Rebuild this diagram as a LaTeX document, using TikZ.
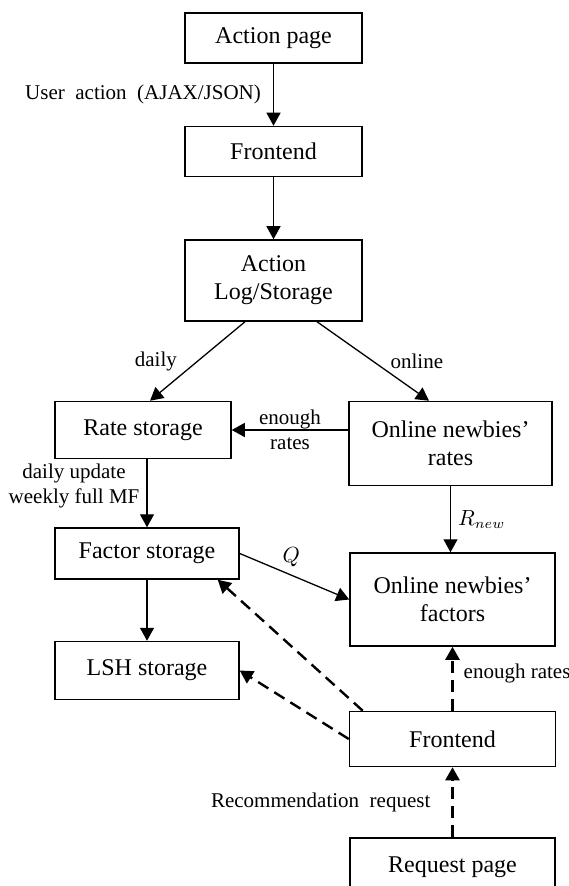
\documentclass[tikz,border=0pt]{standalone}
\usepackage{amsmath}
\usepackage{fontspec}
\setmainfont{Liberation Serif}
\usepackage{tikz}
\usetikzlibrary{positioning,calc,arrows.meta}

\begin{document}
\begin{tikzpicture}[
  box/.style={rectangle, draw=black, line width=0.75pt, minimum width=88.5pt, minimum height=25pt, align=center, inner sep=2pt, font=\fontsize{12}{14}\selectfont},
  lbl/.style={inner sep=0pt, font=\fontsize{10.5}{12.5}\selectfont},
  arrow/.style={-{Triangle[length=6.5pt,width=7pt]}, line width=0.65pt, draw=black},
  dasharrow/.style={arrow, line width=1.2pt, dash pattern=on 6pt off 3.5pt}
]
  \useasboundingbox (0,0) rectangle (284pt,-443pt);

  % Nodes
  \node[box] (action) at (136.75pt,-19pt) {Action page};
  \node[box, below=31pt of action] (front1) {Frontend};
  \node[box, below=31pt of front1, minimum height=40.5pt] (log) {Action\\Log/Storage};
  \node[box, below=39.5pt of log, xshift=-65.25pt, minimum width=88pt, minimum height=28.5pt] (rate) {Rate storage};
  \node[box, below=39.5pt of log, xshift=88.5pt, minimum width=101.5pt, minimum height=42pt] (onrates) {Online newbies’\\rates};
  \node[box, below=34pt of rate, xshift=2pt, minimum width=92pt, minimum height=25.5pt] (factor) {Factor storage};
  \node[box, below=33pt of onrates, xshift=1pt, minimum width=102.5pt, minimum height=46.5pt] (onfactors) {Online newbies’\\factors};
  \node[box, below=30.5pt of factor, minimum width=92pt, minimum height=29pt] (lsh) {LSH storage};
  \node[box, below=32pt of onfactors, minimum width=103pt, minimum height=27.5pt] (front2) {Frontend};
  \node[box, below=35pt of front2, minimum width=102.5pt, minimum height=29.5pt] (request) {Request page};

  % Solid arrows
  \draw[arrow] (action) -- node[lbl, left=6pt] {User\ \ action\ \ (AJAX/JSON)} (front1);
  \draw[arrow] (front1) -- (log);
  \draw[arrow] ($(log.south)+(-14.25pt,0)$) -- node[lbl, left=10pt] {daily} ($(rate.north)+(3.5pt,0)$);
  \draw[arrow] ($(log.south)+(21.75pt,0)$) -- node[lbl, right=8.5pt] {online} ($(onrates.north)+(-10.75pt,0)$);
  \draw[arrow] (onrates.west |- rate.east) -- node[lbl, align=center] {enough\\rates} (rate.east);
  \draw[arrow] (rate.south -| factor.north) -- node[lbl, pos=0.4, left=3.5pt, align=center] {daily update\\weekly full MF} (factor.north);
  \draw[arrow] (onrates.south) -- node[lbl, right=3.5pt] {$R_{new}$} (onrates.south |- onfactors.north);
  \draw[arrow] (factor.east) -- node[lbl, pos=0.47, above=4pt] {$Q$} (onfactors.west);
  \draw[arrow] (factor) -- (lsh);

  % Dashed arrows
  \draw[dasharrow] ($(front2.north west)+(7pt,0)$) -- ($(factor.south east)+(-11pt,0)$);
  \draw[dasharrow] (front2.west) -- (lsh.east);
  \draw[dasharrow] (front2) -- node[lbl, right=5pt, yshift=2.5pt] {enough rates} (onfactors);
  \draw[dasharrow] (request) -- node[lbl, left=10.5pt] {Recommendation\ \ request} (front2);
\end{tikzpicture}
\end{document}
